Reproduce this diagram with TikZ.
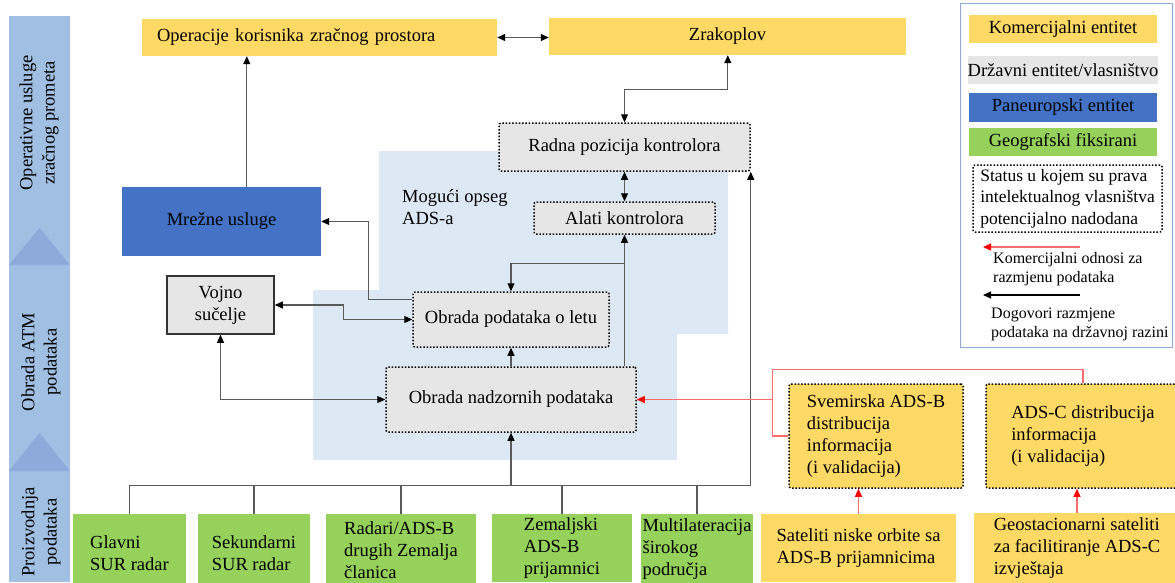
\documentclass[tikz,border=0pt]{standalone}
\usepackage{fontspec}
\setmainfont{Liberation Serif}
\usetikzlibrary{arrows.meta}
\definecolor{cyel}{HTML}{FFD966}
\definecolor{cgry}{HTML}{E7E6E6}
\definecolor{cblu}{HTML}{4472C4}
\definecolor{cgrn}{HTML}{96D15C}
\definecolor{cband}{HTML}{A0BFE3}
\definecolor{ctri}{HTML}{8EAADB}
\definecolor{creg}{HTML}{DDE8F5}
\definecolor{cline}{HTML}{5A5A5A}
\definecolor{clegb}{HTML}{8EAADB}
\definecolor{credl}{HTML}{FF6B6B}
\tikzset{
  every node/.style={font=\fontsize{18.5}{22.3}\selectfont},
  box/.style={inner xsep=2pt, inner ysep=2pt, align=center},
  yel/.style={box, fill=cyel},
  gry/.style={box, fill=cgry},
  blu/.style={box, fill=cblu},
  grn/.style={box, fill=cgrn},
  dotb/.style={draw=black, line width=1.5pt, dash pattern=on 1.5pt off 1.8pt, rounded corners=2pt},
  ln/.style={draw=cline, line width=1.1pt},
  arr/.style={ln, -{Triangle[length=8pt,width=7pt,black]}},
  bi/.style={ln, {Triangle[length=8pt,width=7pt,black]}-{Triangle[length=8pt,width=7pt,black]}},
  rln/.style={draw=credl, line width=1.1pt},
  rarr/.style={rln, -{Triangle[length=8pt,width=7pt,red]}},
  small/.style={font=\fontsize{16}{18.6}\selectfont}
}
\begin{document}
\begin{tikzpicture}[x=1pt,y=-1pt]
\useasboundingbox (0,0) rectangle (1175,582);
\fill[white] (0,0) rectangle (1175,582);

% left band
\fill[cband] (9,16) rectangle (70,582);
\fill[ctri] (9,265) -- (39.5,228) -- (70,265) -- cycle;
\fill[ctri] (9,471) -- (39.5,433) -- (70,471) -- cycle;
\node[rotate=90, align=center] (b1) at (39,123) {Operativne usluge\\zračnog prometa};
\node[rotate=90, align=center] (b2) at (41,362) {Obrada ATM\\podataka};
\node[rotate=90, align=center] (b3) at (41,532) {Proizvodnja\\podataka};

% light blue region
\fill[creg] (379,151) -- (728,151) -- (728,334) -- (677,334) -- (677,460) -- (313,460) -- (313,290) -- (379,290) -- cycle;
\node[anchor=west, align=left, inner sep=0pt] (ads) at (402,207) {Mogući opseg\\ADS-a};

% top
\node[yel, text width=325pt, inner xsep=15pt, align=left, minimum height=37pt] (ops) at (319.5,37.5) {Operacije korisnika zračnog prostora};
\node[yel, minimum width=357pt, minimum height=37pt] (zrak) at (727.5,36.5) {Zrakoplov};

% middle
\node[gry, dotb, minimum width=251pt, minimum height=48pt] (radna) at (624.5,147) {Radna pozicija kontrolora};
\node[gry, dotb, minimum width=181pt, minimum height=32pt] (alati) at (624.5,218) {Alati kontrolora};
\node[gry, dotb, minimum width=196pt, minimum height=55pt] (letu) at (511,319.5) {Obrada podataka o letu};
\node[gry, dotb, minimum width=250pt, minimum height=65pt] (nadz) at (511,399.5) {Obrada nadzornih podataka};
\node[blu, minimum width=199pt, minimum height=69pt] (mrez) at (221.5,221.5) {Mrežne usluge};
\node[gry, draw=black!80, line width=1.5pt, minimum width=107pt, minimum height=58pt] (vojno) at (220.5,305) {Vojno\\sučelje};

% right yellow
\node[yel, dotb, align=left, minimum width=174pt, minimum height=104pt] (svem) at (876,436) {Svemirska ADS-B\\distribucija\\informacija\\(i validacija)};
\node[yel, dotb, align=left, minimum width=194pt, minimum height=104pt] (adsc) at (1083,436) {ADS-C distribucija\\informacija\\(i validacija)};
\node[yel, align=left, minimum width=195pt, minimum height=68pt] (sat) at (858.5,548) {Sateliti niske orbite sa\\ADS-B prijamnicima};
\node[yel, align=left, minimum width=206pt, minimum height=70pt] (geo) at (1077,548) {Geostacionarni sateliti\\za facilitiranje ADS-C\\izvještaja};

% green
\node[grn, align=left, minimum width=113pt, minimum height=78pt] (glavni) at (129.5,553) {Glavni\\SUR radar};
\node[grn, align=left, minimum width=112pt, minimum height=78pt] (sek) at (254,553) {Sekundarni\\SUR radar};
\node[grn, align=left, minimum width=150pt, minimum height=72pt] (radari) at (401,550) {Radari/ADS-B\\drugih Zemalja\\članica};
\node[grn, align=left, minimum width=140pt, minimum height=68pt] (zem) at (562,548) {Zemaljski\\ADS-B\\prijamnici};
\node[grn, align=left, inner xsep=0pt, minimum width=112pt, minimum height=70pt] (multi) at (697,549) {Multilateracija\\širokog\\područja};

% connectors
\draw[bi] (ops.east) -- (ops.east -| zrak.west);
\coordinate (m1) at ([xshift=125pt]mrez.north west);
\draw[arr] (m1) -- (m1 |- ops.south);
\coordinate (z1) at ([xshift=179pt]zrak.south west);
\draw[bi] (z1) -- ++(0,34) -| (radna.north);
\draw[bi] (radna.south) -- (alati.north);
\draw[arr] (alati.south |- nadz.north) -- (alati.south);
\draw[arr] ([yshift=-29pt]alati.south) -| (letu.north);
\draw[arr] (nadz.north) -- (letu.south);
\draw[arr] ([yshift=-8pt]letu.north west) -- ++(-44,0) |- (mrez.east);
\draw[bi] (vojno.east) -- ++(69,0) |- (letu.west);
\draw[bi] (vojno.south) |- (nadz.west);

\coordinate (bus) at ([yshift=28pt]glavni.north);
\draw[arr] (glavni.north) -- (bus) -| (radna.south east);
\foreach \n in {sek,radari,zem,multi} \draw[ln] (\n.north) -- (\n.north |- bus);
\draw[arr] (bus -| nadz.south) -- (nadz.south);

\coordinate (rj) at ([xshift=-16pt]svem.west);
\draw[rln] (svem.west) -- (rj) |- ([yshift=14pt]adsc.north) -- (adsc.north);
\draw[rarr] (rj |- nadz.east) -- (nadz.east);
\draw[rarr] (sat.north) -- (sat.north |- svem.south);
\draw[rarr] (geo.north) -- (geo.north |- adsc.south);

% legend
\node[draw=clegb, line width=1pt, minimum width=212pt, minimum height=344pt, inner sep=0pt] (leg) at (1066,175) {};
\node[yel, inner xsep=0pt, minimum width=188pt, minimum height=28pt] (lk) at (1063,29) {Komercijalni entitet};
\node[gry, inner xsep=0pt, minimum width=188pt, minimum height=28pt] (ld) at (1063,70) {Državni entitet/vlasništvo};
\node[blu, inner xsep=0pt, minimum width=188pt, minimum height=29pt] (lp) at (1063,107.5) {Paneuropski entitet};
\node[grn, inner xsep=0pt, minimum width=188pt, minimum height=28pt] (lg) at (1063,142) {Geografski fiksirani};
\node[box, dotb, fill=white, align=left, inner xsep=0pt, font=\fontsize{17.5}{21.7}\selectfont, minimum width=189pt, minimum height=67pt] (ls) at (1067.5,198.5) {Status u kojem su prava\\intelektualnog vlasništva\\potencijalno nadodana};
\coordinate (la1) at (1080,247);
\coordinate (la2) at (983,247);
\draw[rarr] (la1) -- (la2);
\node[small, anchor=west, align=left, inner sep=0pt] (lt1) at (993,269) {Komercijalni odnosi za\\razmjenu podataka};
\coordinate (lb1) at (1080,295);
\coordinate (lb2) at (983,295);
\draw[draw=black, line width=1.1pt, -{Triangle[length=8pt,width=7pt,black]}] (lb1) -- (lb2);
\node[small, anchor=west, align=left, inner sep=0pt] (lt2) at (991,324.5) {Dogovori razmjene\\podataka na državnoj razini};
\end{tikzpicture}
\end{document}
